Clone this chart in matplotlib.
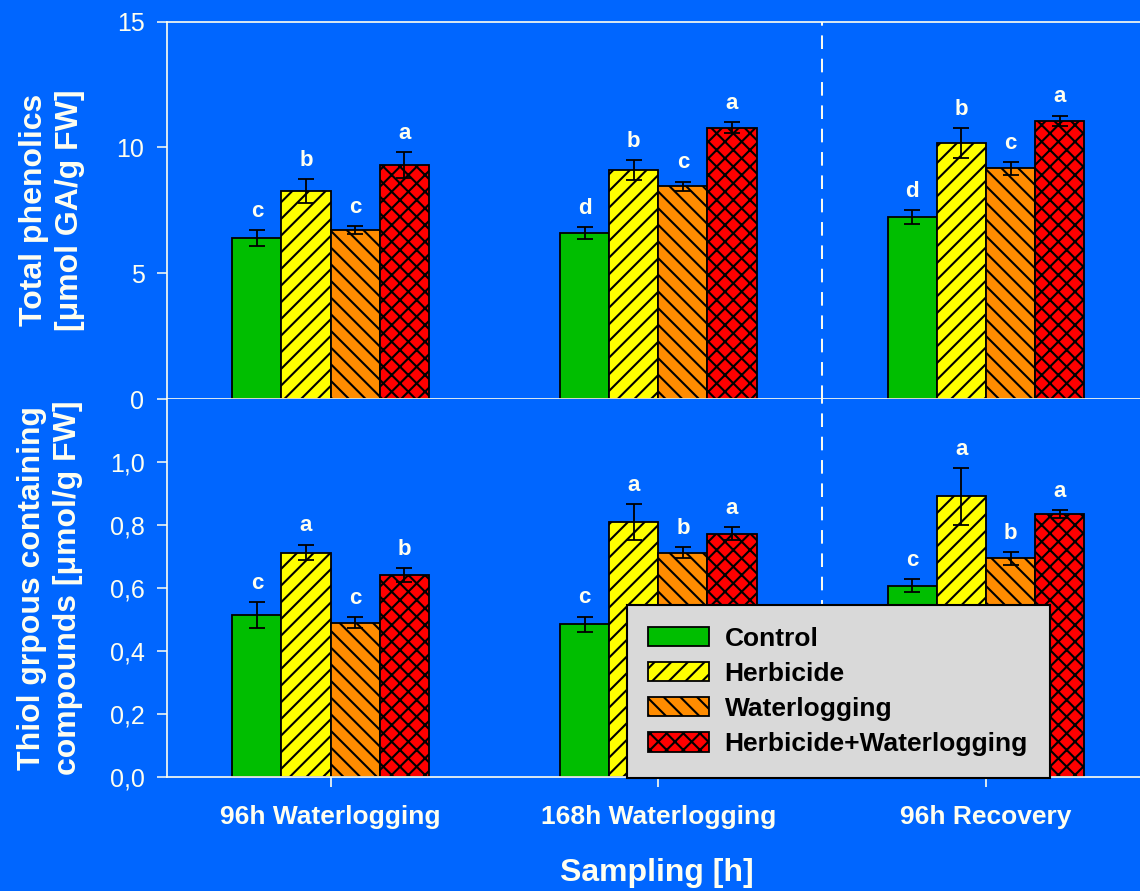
import numpy as np
import matplotlib
matplotlib.use("Agg")
from matplotlib import pyplot as plt
from matplotlib.ticker import FuncFormatter

plt.rcParams['font.family'] = ['Liberation Sans', 'DejaVu Sans']
plt.rcParams['hatch.linewidth'] = 1.5

# sampling times and treatments
groups = ['96h Waterlogging', '168h Waterlogging', '96h Recovery']
treatments = ['Control', 'Herbicide', 'Waterlogging', 'Herbicide+Waterlogging']

# total phenolics [umol GA/g FW], rows = treatments, cols = groups
phen = [[6.40, 6.59, 7.22],
        [8.27, 9.09, 10.17],
        [6.71, 8.46, 9.17],
        [9.29, 10.79, 11.06]]
phen_err = [[0.32, 0.24, 0.28],
            [0.47, 0.40, 0.60],
            [0.15, 0.18, 0.25],
            [0.52, 0.21, 0.21]]
phen_letters = [['c', 'd', 'd'],
                ['b', 'b', 'b'],
                ['c', 'c', 'c'],
                ['a', 'a', 'a']]

# thiol groups [umol/g FW]
thiol = [[0.515, 0.486, 0.608],
         [0.713, 0.810, 0.891],
         [0.491, 0.712, 0.695],
         [0.642, 0.773, 0.836]]
thiol_err = [[0.040, 0.024, 0.021],
             [0.025, 0.057, 0.090],
             [0.017, 0.017, 0.020],
             [0.021, 0.020, 0.012]]
thiol_letters = [['c', 'c', 'c'],
                 ['a', 'a', 'a'],
                 ['c', 'b', 'b'],
                 ['b', 'a', 'a']]

bg = '#0066FF'
fg = '#FFFFF0'
colors = ['#00BE00', '#FFFF00', '#FF8C00', '#FF0000']
hatches = [None, '//', '\\\\', 'xx']

fig = plt.figure(figsize=(11.4, 8.91), dpi=100, facecolor=bg)
W, H = 1140, 891
left = 166.7 / W
width = 1 - left
ax1 = fig.add_axes([left, 1 - 399 / H, width, (399 - 21.7) / H])
ax2 = fig.add_axes([left, 1 - 777.3 / H, width, (777.3 - 399) / H])

x = np.arange(1, len(groups) + 1)
bw = 0.15


def draw(ax, vals, errs, letters):
    for i in range(len(treatments)):
        pos = x + (i - 1.5) * bw
        ax.bar(pos, vals[i], bw, color=colors[i], hatch=hatches[i],
               edgecolor='black', linewidth=1.3, label=treatments[i], zorder=2)
        ax.errorbar(pos, vals[i], yerr=errs[i], fmt='none', ecolor='black',
                    elinewidth=1.3, capsize=5.5, capthick=1.3, zorder=3)
        for j in range(len(groups)):
            ax.annotate(letters[i][j], (pos[j], vals[i][j] + errs[i][j]),
                        xytext=(0, 6), textcoords='offset points',
                        ha='center', va='bottom', color=fg,
                        fontsize=16, fontweight='bold')
    ax.axvline(2.5, color=fg, lw=1.4, ls=(0, (7, 5)), zorder=1)
    ax.set_facecolor(bg)
    ax.set_xlim(0.5, 3.47)
    ax.set_xticks(x)
    ax.spines['right'].set_visible(False)
    for s in ['left', 'top', 'bottom']:
        ax.spines[s].set_color(fg)
        ax.spines[s].set_linewidth(1.2)
    ax.tick_params(axis='y', direction='out', length=7, width=1.1,
                   colors=fg, labelsize=18, pad=9)


draw(ax1, phen, phen_err, phen_letters)
ax1.set_ylim(0, 15)
ax1.set_yticks([0, 5, 10, 15])
ax1.tick_params(axis='x', direction='out', length=7, width=1.2,
                color='black', labelbottom=False)

draw(ax2, thiol, thiol_err, thiol_letters)
ax2.set_ylim(0, 1.2)
ax2.set_yticks(np.arange(0, 1.01, 0.2))
ax2.yaxis.set_major_formatter(FuncFormatter(lambda v, _: f'{v:.1f}'.replace('.', ',')))
ax2.spines['top'].set_visible(False)
ax2.set_xticklabels(groups)
ax2.tick_params(axis='x', direction='out', length=7, width=1.2,
                colors=fg, labelsize=19, pad=13)
for t in ax2.get_xticklabels():
    t.set_fontweight('bold')

fig.text(52 / W, 1 - 210 / H, 'Total phenolics\n[\u03bcmol GA/g FW]', rotation=90,
         ha='center', va='center', color=fg, fontsize=23, fontweight='bold',
         multialignment='center', linespacing=1.25)
fig.text(50 / W, 1 - 588 / H, 'Thiol grpous containing\ncompounds [\u03bcmol/g FW]',
         rotation=90, ha='center', va='center', color=fg, fontsize=23,
         fontweight='bold', multialignment='center', linespacing=1.25)
fig.text(657 / W, 1 - 873 / H, 'Sampling [h]', ha='center', va='center',
         color=fg, fontsize=23, fontweight='bold')

leg = ax2.legend(loc='lower left', bbox_to_anchor=(626.5 / W, 1 - 777.7 / H),
                 bbox_transform=fig.transFigure, borderaxespad=0,
                 fancybox=False, framealpha=1, facecolor='#D9D9D9',
                 edgecolor='black', prop={'size': 19, 'weight': 'bold'},
                 handlelength=2.3, handleheight=0.75, handletextpad=0.6,
                 labelspacing=0.42, borderpad=0.82)
leg.get_frame().set_linewidth(1.5)
leg.set_zorder(10)

fig.savefig('out.png', dpi=100, facecolor=bg)
